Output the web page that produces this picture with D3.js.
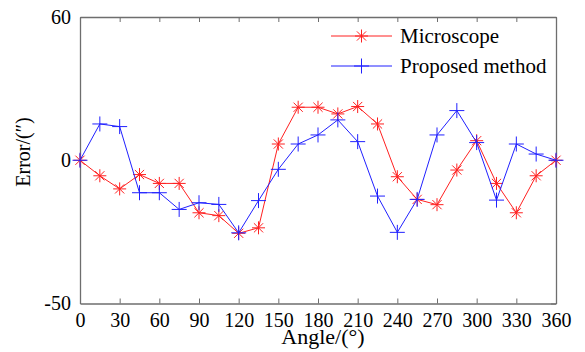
<!DOCTYPE html>
<html>
<head>
<meta charset="utf-8">
<script src="https://cdn.jsdelivr.net/npm/d3@7"></script>
<style>
  body { margin: 0; background: #fff; overflow: hidden; }
  svg { display: block; }
  text { font-family: "Liberation Serif", "Times New Roman", serif; }
</style>
</head>
<body>
<svg class="mysvg"></svg>
<script>
// angles (deg) every 15 degrees
const angles = [0, 15, 30, 45, 60, 75, 90, 105, 120, 135, 150, 165, 180,
  195, 210, 225, 240, 255, 270, 285, 300, 315, 330, 345, 360];

// Microscope error (arc seconds)
const microscope = [0, -6.5, -12, -6, -9.7, -9.7, -22, -23.2, -30.6, -28.3, 6.8, 22.2, 22.2,
  19.4, 22.5, 15.2, -6.9, -16.4, -18.6, -4.1, 8.2, -9.7, -22, -6.5, 0];

// Proposed method error
const proposed = [0, 15.2, 14.1, -13.6, -13.6, -20.6, -17.8, -18.5, -30.4, -16.9, -3.8, 6.8, 10.6,
  16.9, 7.8, -15, -30.2, -16.4, 10.6, 20.8, 7.4, -16.7, 6.8, 2.6, 0];

const xTicks = [0, 30, 60, 90, 120, 150, 180, 210, 240, 270, 300, 330, 360];
const yTickValues = [-60, 0, 60];
const yTickLabels = ["-50", "0", "60"];

const width = 585,
  height = 352,
  margin = { top: 17, right: 29, bottom: 48.5, left: 80 },
  innerWidth = width - margin.left - margin.right,
  innerHeight = height - margin.top - margin.bottom;

const svg = d3.select(".mysvg").attr("width", width).attr("height", height);
const g = svg.append("g").attr("transform", `translate(${margin.left},${margin.top})`);

const xScale = d3.scaleLinear().domain([0, 360]).range([0, innerWidth]);
const yScale = d3.scaleLinear().domain([-60, 60]).range([innerHeight, 0]);

const axisColor = "#6e6e6e";

// bottom axis with inward ticks
const xAxis = g.append("g")
  .attr("transform", `translate(0,${innerHeight})`)
  .call(d3.axisBottom(xScale).tickValues(xTicks).tickSizeInner(-5).tickSizeOuter(0).tickPadding(9));
xAxis.select(".domain").attr("stroke", axisColor).attr("stroke-width", 1.3);
xAxis.selectAll(".tick line").attr("stroke", axisColor);
xAxis.selectAll(".tick text").attr("fill", "#000").style("font-size", "20px");

// top axis ticks only
const xTop = g.append("g")
  .call(d3.axisTop(xScale).tickValues(xTicks).tickSizeInner(-5).tickSizeOuter(0).tickFormat(""));
xTop.select(".domain").attr("stroke", axisColor).attr("stroke-width", 1.3);
xTop.selectAll(".tick line").attr("stroke", axisColor);

// left axis
const yAxis = g.append("g")
  .call(d3.axisLeft(yScale).tickValues(yTickValues).tickSize(0).tickPadding(9)
    .tickFormat((d, i) => yTickLabels[i]));
yAxis.select(".domain").attr("stroke", axisColor).attr("stroke-width", 1.3);
yAxis.selectAll(".tick text").attr("fill", "#000").style("font-size", "20px");

// right axis
const yRight = g.append("g")
  .attr("transform", `translate(${innerWidth},0)`)
  .call(d3.axisRight(yScale).tickValues(yTickValues).tickSizeInner(-5).tickSizeOuter(0).tickFormat(""));
yRight.select(".domain").attr("stroke", axisColor).attr("stroke-width", 1.3);
yRight.selectAll(".tick line").attr("stroke", axisColor);

// markers
const asterisk = (r) => {
  const d = r * Math.SQRT1_2;
  return `M${-r},0L${r},0M0,${-r}L0,${r}M${-d},${-d}L${d},${d}M${-d},${d}L${d},${-d}`;
};
const plus = (r) => `M${-r},0L${r},0M0,${-r}L0,${r}`;

const series = [
  { name: "Microscope", values: microscope, color: "#ff2020", marker: asterisk(6.5) },
  { name: "Proposed method", values: proposed, color: "#2020ff", marker: plus(7.5) },
];

const line = d3.line()
  .x((d) => xScale(d[0]))
  .y((d) => yScale(d[1]));

series.forEach((s) => {
  const pts = angles.map((a, i) => [a, s.values[i]]);
  g.append("path")
    .datum(pts)
    .attr("fill", "none")
    .attr("stroke", s.color)
    .attr("stroke-width", 1)
    .attr("d", line);
  g.selectAll(null)
    .data(pts)
    .enter()
    .append("path")
    .attr("transform", (d) => `translate(${xScale(d[0])},${yScale(d[1])})`)
    .attr("d", s.marker)
    .attr("fill", "none")
    .attr("stroke", s.color)
    .attr("stroke-width", 1);
});

// legend
const legend = svg.append("g").attr("transform", "translate(331,36)");
series.forEach((s, i) => {
  const row = legend.append("g").attr("transform", `translate(0,${i * 30})`);
  row.append("line")
    .attr("x1", 0).attr("x2", 61)
    .attr("stroke", s.color).attr("stroke-width", 1);
  row.append("path")
    .attr("transform", "translate(30.5,0)")
    .attr("d", s.marker)
    .attr("fill", "none")
    .attr("stroke", s.color);
  row.append("text")
    .attr("x", 69)
    .attr("y", 7)
    .style("font-size", "21px")
    .text(s.name);
});

// axis labels
svg.append("text")
  .attr("x", 323)
  .attr("y", 344)
  .attr("text-anchor", "middle")
  .style("font-size", "22px")
  .text("Angle/(°)");

svg.append("text")
  .attr("transform", "translate(30,152) rotate(-90)")
  .attr("text-anchor", "middle")
  .style("font-size", "20px")
  .text("Error/(″)");
</script>
</body>
</html>
